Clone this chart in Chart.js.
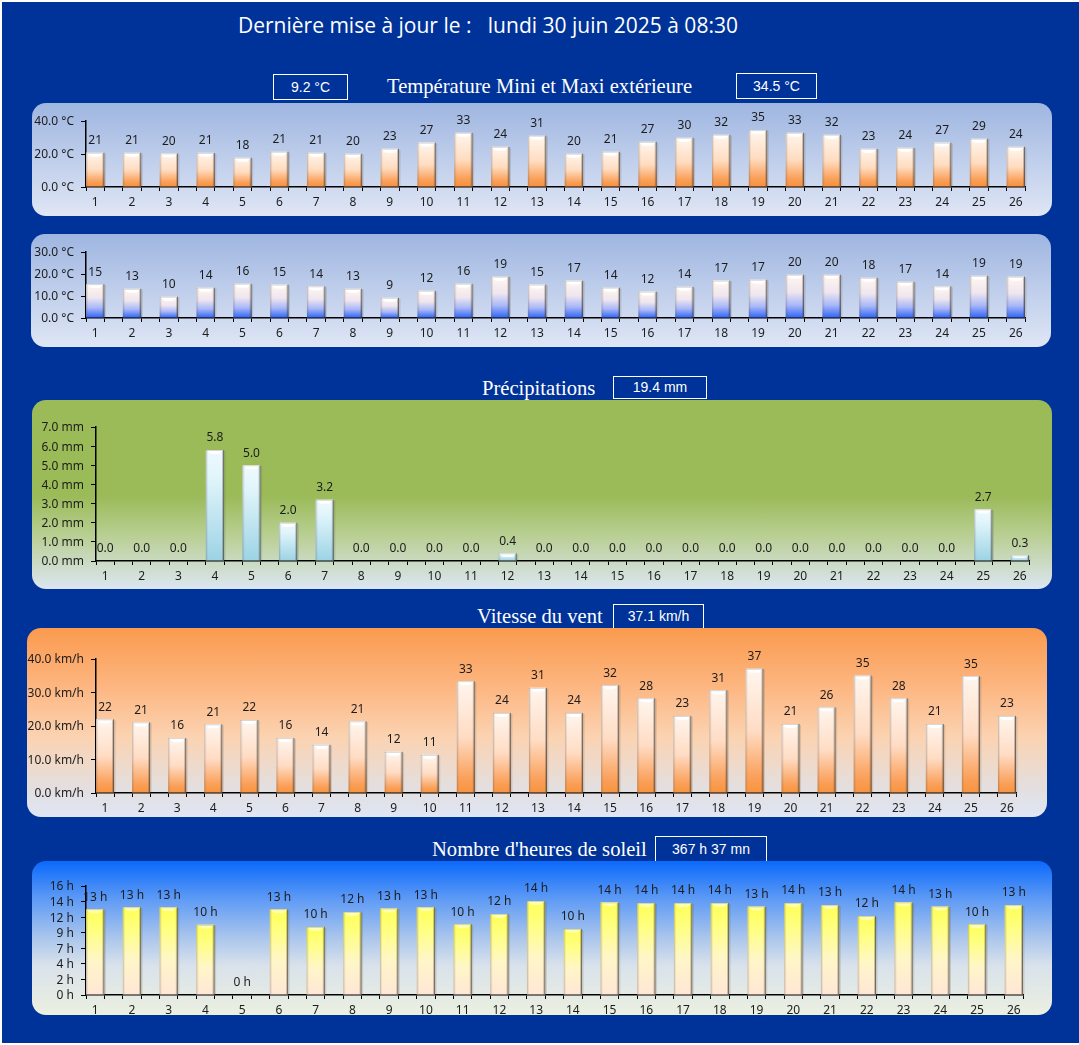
<!DOCTYPE html>
<html lang="fr">
<head>
<meta charset="utf-8">
<title>Relevés du mois</title>
<script src="https://cdn.jsdelivr.net/npm/chart.js@4/dist/chart.umd.min.js"></script>
<style>
    html, body { margin: 0; padding: 0; background: #fff; overflow: hidden; }
    #page { position: absolute; left: 2px; top: 2px; width: 1077px; height: 1041px; background: #003399; }
    .panel { position: absolute; }
    .panel canvas { display: block; }
    .header { position: absolute; color: #fff; font: 21px "Open Sans", sans-serif; white-space: pre; line-height: 26px; }
    .title { position: absolute; color: #fff; font: 20.6px "Liberation Serif", serif; white-space: pre; line-height: 24px; }
    .box { position: absolute; box-sizing: border-box; border: 1px solid #fff; color: #fff; text-align: center;
           font: 14px "Liberation Sans", sans-serif; }
</style>
</head>
<body>
<div id="page"></div>
<script>
// Données
const days = [1, 2, 3, 4, 5, 6, 7, 8, 9, 10, 11, 12, 13, 14, 15, 16, 17, 18, 19, 20, 21, 22, 23, 24, 25, 26];
const tempMax = [20.8, 20.8, 20.4, 20.7, 17.8, 21.4, 20.8, 20.2, 23.2, 26.9, 32.9, 24.4, 31.1, 20.2, 21.4, 27.4, 29.9, 31.7, 34.5, 32.9, 31.7, 23.2, 23.8, 26.9, 29.3, 24.4];
const tempMin = [15.4, 13.3, 9.7, 13.8, 15.6, 15.2, 14.4, 13.3, 9.2, 12.4, 15.6, 18.8, 15.2, 17.0, 13.8, 12.0, 14.2, 17.0, 17.4, 19.7, 19.7, 18.3, 16.5, 14.4, 19.2, 18.8];
const rain = [0, 0, 0, 5.8, 5.0, 2.0, 3.2, 0, 0, 0, 0, 0.4, 0, 0, 0, 0, 0, 0, 0, 0, 0, 0, 0, 0, 2.7, 0.3];
const wind = [22.0, 21.1, 16.4, 20.5, 21.8, 16.4, 14.4, 21.4, 12.3, 11.4, 33.4, 23.9, 31.4, 23.9, 32.2, 28.3, 23.0, 30.7, 37.1, 20.6, 25.6, 35.1, 28.3, 20.6, 34.9, 23.0];
const sun = [12.6, 12.9, 12.9, 10.3, 0, 12.6, 10.0, 12.2, 12.7, 12.9, 10.4, 11.9, 13.8, 9.7, 13.6, 13.5, 13.5, 13.5, 13.0, 13.5, 13.2, 11.6, 13.6, 13.0, 10.4, 13.2];

const tempMaxTicks = ['0.0 °C', '20.0 °C', '40.0 °C'];
const tempMinTicks = ['0.0 °C', '10.0 °C', '20.0 °C', '30.0 °C'];
const rainTicks = ['0.0 mm', '1.0 mm', '2.0 mm', '3.0 mm', '4.0 mm', '5.0 mm', '6.0 mm', '7.0 mm'];
const windTicks = ['0.0 km/h', '10.0 km/h', '20.0 km/h', '30.0 km/h', '40.0 km/h'];
const sunTicks = ['0 h', '2 h', '4 h', '7 h', '9 h', '12 h', '14 h', '16 h'];

const LABEL_FONT = '12px "Noto Sans", sans-serif';
const page = document.getElementById('page');

/**
 * Ajoute un élément de texte positionné (coordonnées de la fenêtre)
 */
function addText(className, text, left, top, width, height) {
    const el = document.createElement('div');
    el.className = className;
    el.textContent = text;
    el.style.left = (left - 2) + 'px';
    el.style.top = (top - 2) + 'px';
    if (width) {
        el.style.width = width + 'px';
        el.style.height = height + 'px';
        el.style.lineHeight = (height - 2) + 'px';
    }
    page.appendChild(el);
}

// Effet de relief des barres et valeur au-dessus de chaque barre
const barDecor = {
    id: 'barDecor',
    afterDatasetsDraw(chart, args, opts) {
        const ctx = chart.ctx;
        const meta = chart.getDatasetMeta(0);
        const values = chart.data.datasets[0].data;
        meta.data.forEach((bar, i) => {
            const left = bar.x - bar.width / 2;
            const right = bar.x + bar.width / 2;
            const h = bar.base - bar.y;
            ctx.save();
            if (h > 0.5) {
                const bevel = Math.min(4, h / 2);
                // chanfrein clair en haut
                ctx.fillStyle = opts.bevelColor;
                ctx.beginPath();
                ctx.moveTo(left, bar.y);
                ctx.lineTo(right, bar.y);
                ctx.lineTo(right - 5, bar.y + bevel);
                ctx.lineTo(left + 5, bar.y + bevel);
                ctx.closePath();
                ctx.fill();
                // bords gauche et droit, ombre portée
                ctx.fillStyle = 'rgba(110,100,95,0.32)';
                ctx.fillRect(left, bar.y, 1, h);
                ctx.fillStyle = 'rgba(110,100,95,0.12)';
                ctx.fillRect(left + 1, bar.y + 1, 1, h - 1);
                ctx.fillStyle = 'rgba(70,60,50,0.75)';
                ctx.fillRect(right - 1, bar.y, 1, h);
                ctx.fillStyle = 'rgba(70,60,50,0.28)';
                ctx.fillRect(right - 2, bar.y + 1, 1, h - 1);
                ctx.fillStyle = 'rgba(60,60,60,0.15)';
                ctx.fillRect(right, bar.y + 1, 1.5, h - 1);
                ctx.fillStyle = 'rgba(120,120,120,0.3)';
                ctx.fillRect(left, bar.y, bar.width, 1);
            }
            // valeur
            ctx.fillStyle = '#1c1c1c';
            ctx.font = LABEL_FONT;
            ctx.textAlign = 'center';
            ctx.textBaseline = 'middle';
            ctx.fillText(opts.format(values[i].y), bar.x, bar.y - 12);
            ctx.restore();
        });
    }
};

/**
 * Crée un panneau arrondi avec son histogramme
 */
function createPanel(box, panelStops, values, yTicks, yMax, stops, bevelColor, format) {
    const panel = document.createElement('div');
    panel.className = 'panel';
    panel.style.left = (box.left - 2) + 'px';
    panel.style.top = (box.top - 2) + 'px';
    panel.style.width = (box.right - box.left) + 'px';
    panel.style.height = (box.bottom - box.top) + 'px';
    panel.style.borderRadius = '14px';
    panel.style.background = 'linear-gradient(to bottom, ' + panelStops.join(', ') + ')';
    const canvas = document.createElement('canvas');
    canvas.width = box.right - box.left;
    canvas.height = box.bottom - box.top;
    panel.appendChild(canvas);
    page.appendChild(panel);

    new Chart(canvas, {
        type: 'bar',
        data: {
            datasets: [{
                data: days.map((d, i) => ({ x: d, y: values[i] })),
                // la largeur de base est l'écart entre deux traits (1/4 de jour) : barre = 1/2 jour
                categoryPercentage: 1,
                barPercentage: 2,
                borderWidth: 0,
                backgroundColor: function(c) {
                    // dégradé propre à chaque barre
                    const chart = c.chart;
                    if (!chart.chartArea || !c.parsed) return stops[0][1];
                    const yScale = chart.scales.y;
                    const top = yScale.getPixelForValue(c.parsed.y);
                    const base = yScale.getPixelForValue(0);
                    const g = chart.ctx.createLinearGradient(0, top, 0, Math.max(base, top + 1));
                    stops.forEach(s => g.addColorStop(s[0], s[1]));
                    return g;
                }
            }]
        },
        options: {
            responsive: false,
            animation: false,
            devicePixelRatio: 1,
            events: [],
            layout: {
                autoPadding: false,
                padding: { top: box.axisTop - box.top, right: box.right - box.axisRight, left: 0, bottom: 0 }
            },
            plugins: {
                legend: { display: false },
                title: { display: false },
                tooltip: { enabled: false },
                barDecor: { format: format, bevelColor: bevelColor }
            },
            scales: {
                x: {
                    type: 'linear',
                    offset: false,
                    min: days[0] - 0.25,
                    max: days[days.length - 1] + 0.25,
                    afterBuildTicks: function(scale) {
                        // traits aux bords des barres, libellé au centre
                        const t = [];
                        days.forEach(d => t.push({ value: d - 0.25 }, { value: d }, { value: d + 0.25 }));
                        scale.ticks = t;
                    },
                    afterFit: function(scale) { scale.height = box.bottom - box.axisZero; },
                    grid: {
                        offset: false,
                        drawOnChartArea: false,
                        tickLength: 4,
                        tickWidth: 1,
                        tickColor: c => (c.tick && Number.isInteger(c.tick.value)) ? 'rgba(0,0,0,0)' : '#000'
                    },
                    border: { color: '#000', width: 1.5 },
                    ticks: {
                        autoSkip: false,
                        maxRotation: 0,
                        padding: 4,
                        color: '#1c1c1c',
                        font: { family: '"Noto Sans", sans-serif', size: 12 },
                        callback: v => Number.isInteger(v) ? String(v) : ''
                    }
                },
                y: {
                    min: 0,
                    max: yMax,
                    afterBuildTicks: function(scale) {
                        scale.ticks = yTicks.map((label, i) => ({ value: yMax * i / (yTicks.length - 1) }));
                    },
                    afterFit: function(scale) { scale.width = box.axisLeft - box.left; },
                    grid: { drawOnChartArea: false, tickLength: 5, tickWidth: 1, tickColor: '#000' },
                    border: { color: '#000', width: 1.5 },
                    ticks: {
                        autoSkip: false,
                        padding: 7,
                        labelOffset: 1,
                        color: '#1c1c1c',
                        font: { family: '"Noto Sans", sans-serif', size: 12 },
                        callback: (v, i) => yTicks[i]
                    }
                }
            }
        },
        plugins: [barDecor]
    });
}

const asInt = v => String(Math.round(v));

// En-tête et titres
addText('header', 'Dernière mise à jour le :   lundi 30 juin 2025 à 08:30', 238, 12);
addText('title', 'Température Mini et Maxi extérieure', 387, 74);
addText('box', '9.2 °C', 273, 74, 75, 26);
addText('box', '34.5 °C', 736, 73, 81, 26);
addText('title', 'Précipitations', 482, 376);
addText('box', '19.4 mm', 613, 376, 94, 23);
addText('title', 'Vitesse du vent', 477, 604);
addText('box', '37.1 km/h', 613, 604, 91, 25);
addText('title', "Nombre d'heures de soleil", 432, 837);
addText('box', '367 h 37 mn', 655, 836, 112, 26);

const blueGrey = ['#9fb6e1', '#dfe6f5'];
const orangeBar = [[0, '#fff6ee'], [0.5, '#ffdcc0'], [0.85, '#fa9f58'], [1, '#f7903c']];

createPanel({ left: 32, top: 103, right: 1052, bottom: 216, axisLeft: 86, axisRight: 1025, axisTop: 121, axisZero: 187 },
    blueGrey, tempMax, tempMaxTicks, 40, orangeBar, '#ffffff', asInt);

createPanel({ left: 31, top: 234, right: 1051, bottom: 347, axisLeft: 86, axisRight: 1025, axisTop: 252, axisZero: 318 },
    blueGrey, tempMin, tempMinTicks, 30,
    [[0, '#fff6f0'], [0.4, '#efe6ef'], [0.7, '#a9b8f8'], [1, '#2e63f5']], '#ffffff', asInt);

createPanel({ left: 32, top: 400, right: 1052, bottom: 589, axisLeft: 96, axisRight: 1029, axisTop: 427, axisZero: 561 },
    ['#9bbb59 0%', '#9bbb59 51%', '#b9cf94 72%', '#dce6f1 100%'], rain, rainTicks, 7,
    [[0, '#eefaff'], [0.25, '#e0f5fb'], [1, '#9cd3e4']], '#ffffff', v => v.toFixed(1));

createPanel({ left: 27, top: 628, right: 1047, bottom: 817, axisLeft: 96, axisRight: 1016, axisTop: 659, axisZero: 793 },
    ['#fa9a4e 0%', '#fdb57f 30%', '#fbd3b2 58%', '#e3dfe0 85%', '#dfe6f5 100%'], wind, windTicks, 40,
    [[0, '#fff6ee'], [0.5, '#ffdcc4'], [0.88, '#fa9f58'], [1, '#f7943f']], '#ffffff', asInt);

createPanel({ left: 32, top: 861, right: 1052, bottom: 1015, axisLeft: 86, axisRight: 1023, axisTop: 886, axisZero: 995 },
    ['#0a69fb 0%', '#5f9bf5 25%', '#abc6ec 50%', '#d9e2eb 68%', '#ebf0e0 100%'], sun, sunTicks, 16,
    [[0, '#ffff55'], [0.25, '#ffff80'], [0.6, '#fff6c8'], [1, '#ffe6d6']], '#ffffb0', v => Math.round(v) + ' h');
</script>
</body>
</html>
